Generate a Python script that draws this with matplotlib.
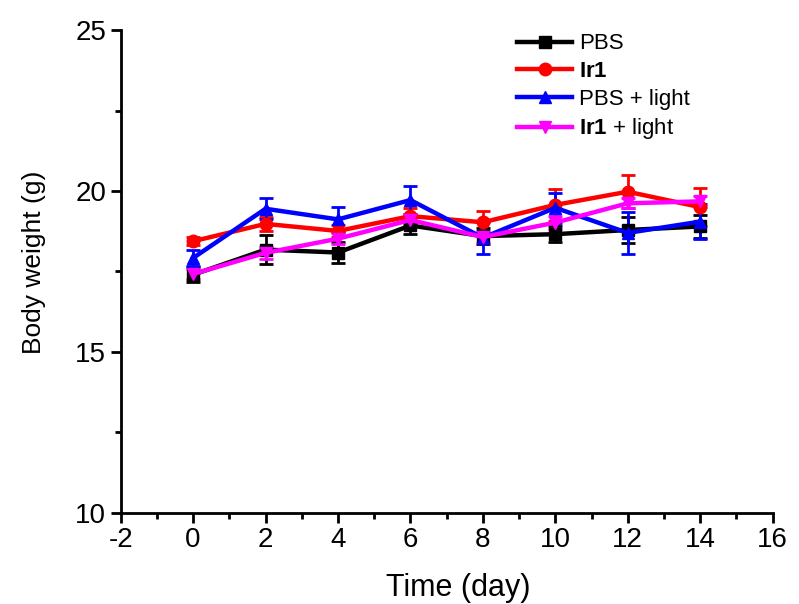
import numpy as np
import matplotlib.pyplot as plt
from matplotlib.ticker import MultipleLocator

plt.rcParams['font.family'] = ['Liberation Sans', 'DejaVu Sans']
plt.rcParams['axes.unicode_minus'] = False
plt.rcParams['mathtext.fontset'] = 'custom'
plt.rcParams['mathtext.rm'] = 'Liberation Sans'
plt.rcParams['mathtext.bf'] = 'Liberation Sans:bold'

days = np.array([0, 2, 4, 6, 8, 10, 12, 14])

pbs = np.array([17.40, 18.18, 18.09, 18.93, 18.60, 18.66, 18.79, 18.90])
pbs_err = np.array([0.24, 0.45, 0.33, 0.28, 0.25, 0.25, 0.40, 0.35])

ir1 = np.array([18.44, 18.98, 18.76, 19.22, 19.03, 19.57, 19.98, 19.50])
ir1_err = np.array([0.12, 0.22, 0.18, 0.25, 0.34, 0.50, 0.52, 0.58])

pbs_light = np.array([17.92, 19.45, 19.12, 19.72, 18.55, 19.48, 18.70, 19.05])
pbs_light_err = np.array([0.25, 0.32, 0.38, 0.44, 0.50, 0.47, 0.66, 0.55])

ir1_light = np.array([17.42, 18.08, 18.52, 19.10, 18.57, 19.02, 19.62, 19.68])
ir1_light_err = np.array([0.15, 0.18, 0.18, 0.20, 0.18, 0.20, 0.15, 0.18])

fig = plt.figure(figsize=(7.99, 6.04), dpi=100)
ax = fig.add_axes([0.151, 0.151, 0.816, 0.799])

series = [
    (pbs, pbs_err, 'black', 's', 'PBS'),
    (ir1, ir1_err, 'red', 'o', r'$\mathbf{Ir1}$'),
    (pbs_light, pbs_light_err, 'blue', '^', 'PBS + light'),
    (ir1_light, ir1_light_err, '#ff00ff', 'v', r'$\mathbf{Ir1}$ + light'),
]

handles = []
for y, err, c, m, lab in series:
    cont = ax.errorbar(days, y, yerr=err, color=c, marker=m, markersize=9,
                       linewidth=3.2, elinewidth=2, capsize=5, capthick=2,
                       label=lab)
    handles.append(cont[0])

ax.set_xlim(-2, 16)
ax.set_ylim(10, 25)
ax.xaxis.set_major_locator(MultipleLocator(2))
ax.xaxis.set_minor_locator(MultipleLocator(1))
ax.yaxis.set_major_locator(MultipleLocator(5))
ax.yaxis.set_minor_locator(MultipleLocator(2.5))

for s in ['top', 'right']:
    ax.spines[s].set_visible(False)
for s in ['left', 'bottom']:
    ax.spines[s].set_linewidth(2)

ax.tick_params(which='major', length=7, width=2, labelsize=20, direction='out')
ax.tick_params(which='minor', length=4, width=2, direction='out')

ax.set_xlabel('Time (day)', fontsize=22)
ax.set_ylabel('Body weight (g)', fontsize=19)
ax.xaxis.set_label_coords(0.518, -0.125)
ax.yaxis.set_label_coords(-0.115, 0.52)

ax.legend(handles, [s[4] for s in series], loc='upper left', frameon=False,
          fontsize=16, handlelength=2.5, labelspacing=0.3, handletextpad=0.3,
          bbox_to_anchor=(0.577, 1.035))

fig.savefig('out.png', dpi=100)
